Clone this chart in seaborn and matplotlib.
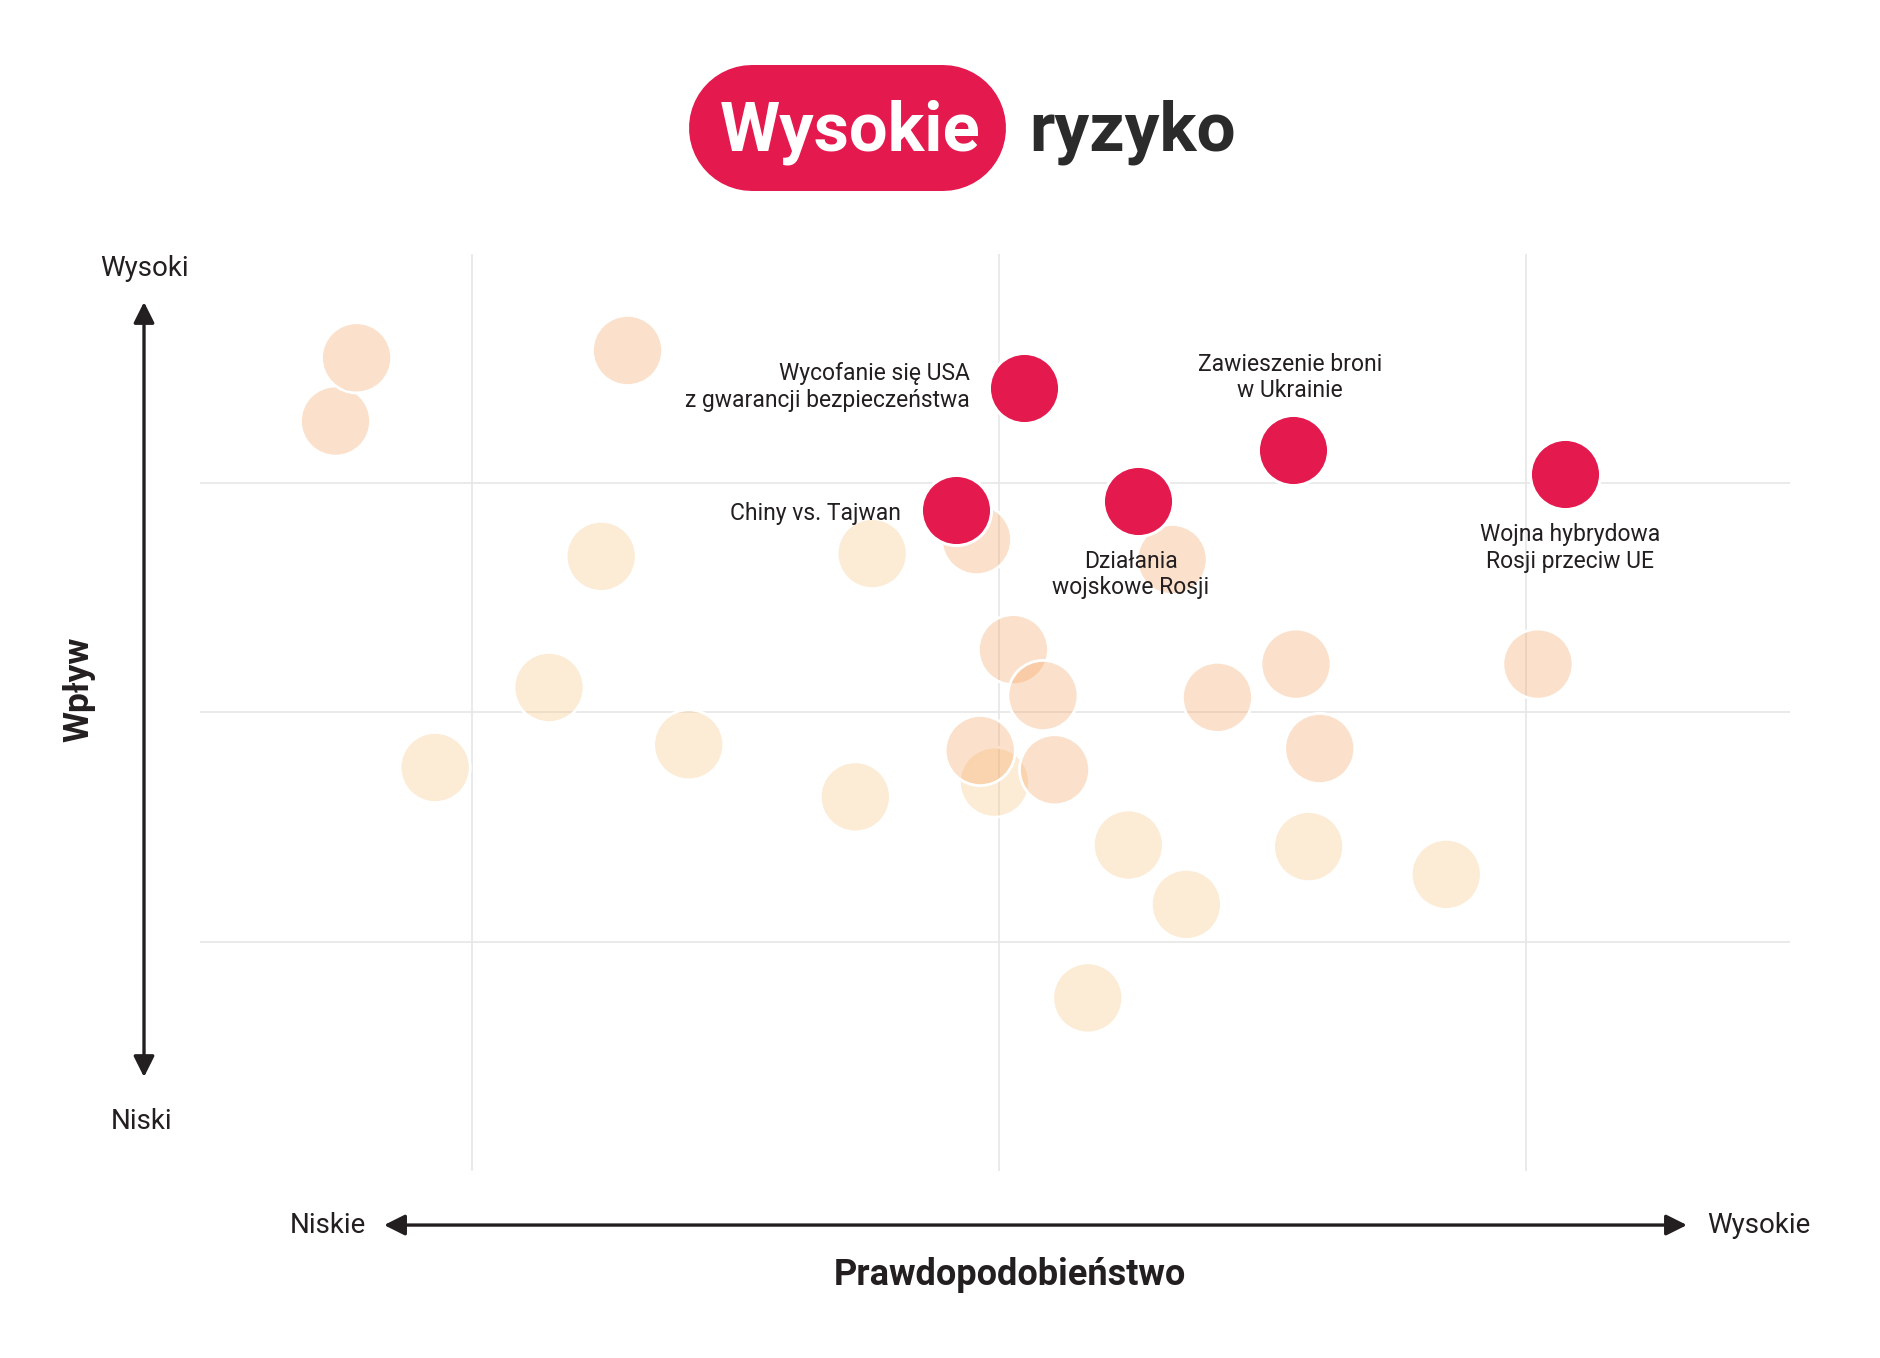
import matplotlib
matplotlib.use("Agg")
import matplotlib.pyplot as plt
from matplotlib.lines import Line2D
from matplotlib.transforms import IdentityTransform
import seaborn as sns
import pandas as pd

# ---------------- data ----------------
tlo_x = [0.741, 0.781, 1.295, 1.957, 2.328, 2.027, 2.083, 1.964, 2.105, 2.414, 2.563, 2.608, 3.022,
         1.245, 1.759, 1.146, 1.411, 0.930, 1.727, 1.991, 2.245, 2.587, 2.848, 2.355, 2.168]
tlo_y = [3.271, 3.547, 3.579, 2.754, 2.667, 2.274, 2.074, 1.834, 1.750, 2.066, 2.211, 1.843, 2.211,
         2.681, 2.693, 2.109, 1.859, 1.760, 1.632, 1.696, 1.422, 1.415, 1.294, 1.163, 0.755]
tlo_grupa = ["B"] * 13 + ["A"] * 12

wysokie_nazwy = ["Wycofanie się USA\nz gwarancji bezpieczeństwa",
                 "Zawieszenie broni\nw Ukrainie",
                 "Wojna hybrydowa\nRosji przeciw UE",
                 "Działania\nwojskowe Rosji",
                 "Chiny vs. Tajwan"]
wysokie_x = [2.047, 2.558, 3.074, 2.263, 1.918]
wysokie_y = [3.416, 3.147, 3.041, 2.921, 2.882]

# label offsets (pixels) and alignment
etykiety_dx = [-54, -3, 5, -7, -55]
etykiety_dy = [1, 72, -74, -73, -3]
etykiety_ha = ["right", "center", "center", "center", "right"]

RED = "#E41A4F"
DARK = "#231F20"
palette = {"A": (248/255, 195/255, 122/255, 0.30),
           "B": (245/255, 158/255, 85/255, 0.30)}

sns.set_theme(style="white")
plt.rcParams["font.family"] = ["Roboto", "DejaVu Sans"]

fig = plt.figure(figsize=(18.8, 13.58), dpi=100)
ax = fig.add_axes([0.1064, 0.1377, 0.8457, 0.6753])

tlo = pd.DataFrame({"x": tlo_x, "y": tlo_y, "grupa": tlo_grupa})
tlo["kolejnosc"] = [1 if g == "B" else 0 for g in tlo["grupa"]]
tlo = tlo.sort_values("kolejnosc", kind="stable")
wys = pd.DataFrame({"x": wysokie_x, "y": wysokie_y, "nazwa": wysokie_nazwy})

S = 2550
sns.scatterplot(data=tlo, x="x", y="y", hue="grupa", palette=palette, s=S,
                edgecolor="white", linewidth=2, legend=False, ax=ax, zorder=3)
sns.scatterplot(data=wys, x="x", y="y", color=RED, s=S,
                edgecolor="white", linewidth=2.2, legend=False, ax=ax, zorder=4)

for i, row in wys.iterrows():
    ax.annotate(row["nazwa"], (row["x"], row["y"]), xytext=(etykiety_dx[i], etykiety_dy[i]),
                textcoords="offset pixels", ha=etykiety_ha[i], va="center",
                multialignment=etykiety_ha[i], fontsize=16.5, color=DARK,
                linespacing=1.2, zorder=5)

ax.set_xlim(0.484, 3.50)
ax.set_ylim(0, 4)
ax.set_xticks([1, 2, 3])
ax.set_yticks([1, 2, 3])
ax.set_xticklabels([])
ax.set_yticklabels([])
ax.tick_params(length=0)
ax.grid(True, color="#E6E6E6", linewidth=1.2)
ax.set_axisbelow(True)
ax.set_xlabel("")
ax.set_ylabel("")
for sp in ax.spines.values():
    sp.set_visible(False)

# ---------------- title pill (stadium shape) ----------------
pill = Line2D([752, 943], [1230, 1230], transform=IdentityTransform(), color=RED,
              linewidth=126 * 72 / 100, solid_capstyle="round")
fig.add_artist(pill)
fig.text(0.4521, 0.8895, "Wysokie", ha="center", va="baseline", fontsize=49.5,
         fontweight="bold", color="white")
fig.text(0.5473, 0.8895, "ryzyko", ha="left", va="baseline", fontsize=50,
         fontweight="bold", color="#2B2B2B")

# ---------------- axis arrows ----------------
arrow = dict(arrowstyle="<|-|>,head_length=0.7,head_width=0.35", color=DARK, lw=2.4,
             shrinkA=0, shrinkB=0, mutation_scale=18)
ax.annotate("", xy=(0.0766, 0.7776), xytext=(0.0766, 0.2069), xycoords="figure fraction",
            textcoords="figure fraction", arrowprops=arrow)
ax.annotate("", xy=(0.8973, 0.0979), xytext=(0.2043, 0.0979), xycoords="figure fraction",
            textcoords="figure fraction", arrowprops=arrow)

fig.text(0.0766, 0.8020, "Wysoki", ha="center", va="center", fontsize=20, color=DARK)
fig.text(0.0753, 0.1740, "Niski", ha="center", va="center", fontsize=20, color=DARK)
fig.text(0.0420, 0.4926, "Wpływ", ha="center", va="center", fontsize=25.5, rotation=90,
         fontweight="bold", color=DARK)
fig.text(0.1947, 0.0979, "Niskie", ha="right", va="center", fontsize=20, color=DARK)
fig.text(0.908, 0.0979, "Wysokie", ha="left", va="center", fontsize=20, color=DARK)
fig.text(0.537, 0.0614, "Prawdopodobieństwo", ha="center", va="center", fontsize=26,
         fontweight="bold", color=DARK)

fig.savefig("out.png", dpi=100, facecolor="white")
